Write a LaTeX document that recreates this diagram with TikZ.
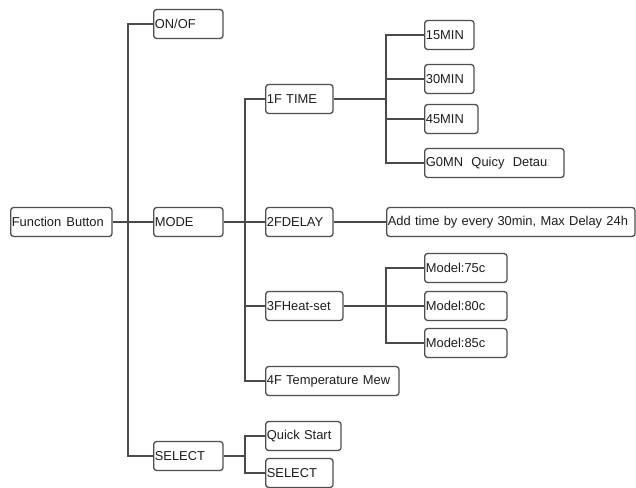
\documentclass[tikz,border=0pt]{standalone}
\usepackage{fontspec}
\setmainfont{Liberation Sans}
\definecolor{ln}{HTML}{4A4A4A}
\definecolor{bd}{HTML}{4F4F4F}
\definecolor{tx}{HTML}{1E1E1E}
\begin{document}
\begin{tikzpicture}[x=1pt,y=-1pt,
  box/.style={draw=bd, line width=1.3pt, rounded corners=3pt, anchor=west,
    minimum height=29pt, inner xsep=1.2pt, inner ysep=0pt, text=tx,
    font=\fontsize{12.9}{14}\selectfont, align=left},
  conn/.style={draw=ln, line width=1.8pt}]
\useasboundingbox[fill=white] (0,0) rectangle (636,487);
\newcommand\bx[5]{\node[box, text width=#4pt] (#1) at (#2,#3) {\raisebox{-1pt}{#5}};}
% level 0/1
\bx{fb}{10}{222}{99}{Function\hspace{0.4em}Button}
\bx{onof}{153}{24}{67}{ON/OF}
\bx{mode}{153}{222}{67}{MODE}
\bx{sel}{153}{456}{67}{SELECT}
% level 2
\bx{t1}{265}{99}{65}{1F TIME}
\bx{t2}{265}{222}{65}{2FDELAY}
\bx{t3}{265}{306}{75}{3FHeat-set}
\bx{t4}{265}{381}{131}{4F Temperature Mew}
\bx{qs}{265}{436}{73}{Quick Start}
\bx{sel2}{265}{473}{65}{SELECT}
% level 3
\bx{m15}{424}{35}{47}{15MIN}
\bx{m30}{424}{79}{47}{30MIN}
\bx{m45}{424}{119}{51}{45MIN}
\bx{g0}{424}{163}{137}{G0MN\hspace{0.65em}Quicy\hspace{0.65em}Detau{\color{black!20}:}}
\bx{add}{386}{222}{246}{Add time by every 30min, Max Delay 24h}
\bx{h75}{424}{268}{80}{Model:75c}
\bx{h80}{424}{306}{80}{Model:80c}
\bx{h85}{424}{343}{80}{Model:85c}
% junctions
\coordinate (j1) at (128,222);
\coordinate (j2) at (245,222);
\coordinate (j3) at (386,99);
\coordinate (j4) at (386,306);
\coordinate (j5) at (245,456);
% connectors
\path[conn] (fb.east) -- (mode.west);
\path[conn] (onof.west) -| (j1) |- (sel.west);
\path[conn] (mode.east) -- (t2.west);
\path[conn] (t1.west) -| (j2) |- (t4.west);
\path[conn] (j2) |- (t3.west);
\path[conn] (t1.east) -- (j3);
\path[conn] (m15.west) -| (j3) |- (g0.west);
\path[conn] (j3) |- (m30.west);
\path[conn] (j3) |- (m45.west);
\path[conn] (t2.east) -- (add.west);
\path[conn] (t3.east) -- (h80.west);
\path[conn] (h75.west) -| (j4) |- (h85.west);
\path[conn] (sel.east) -- (j5);
\path[conn] (qs.west) -| (j5) |- (sel2.west);
\end{tikzpicture}
\end{document}
